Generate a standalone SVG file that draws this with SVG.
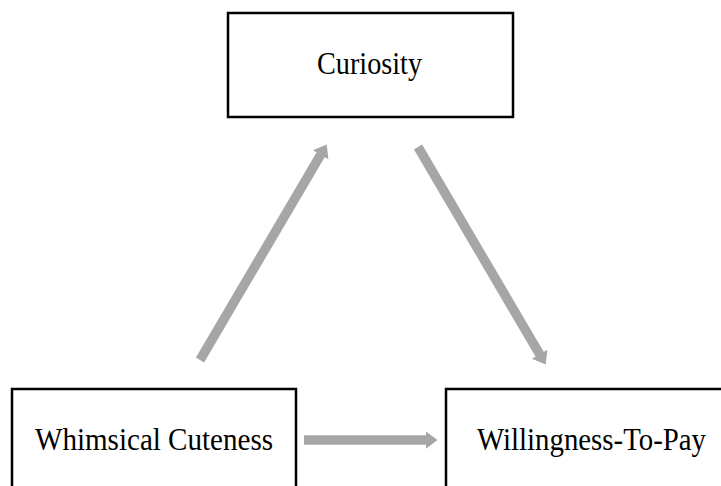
<svg xmlns="http://www.w3.org/2000/svg" width="721" height="486" viewBox="0 0 721 486">
<style>
.box{fill:#fff;stroke:#000;stroke-width:2.5}
.lbl{font-family:"Liberation Serif","Times New Roman",serif;font-size:31px;fill:#000}
.arr{stroke:#a6a6a6;stroke-width:9.5;fill:none}
</style>
<defs>
<marker id="ah" markerUnits="userSpaceOnUse" markerWidth="14" markerHeight="20" viewBox="0 -10 14 20" refX="0.5" refY="0" orient="auto">
<path d="M0,-9 L12,0 L0,9 z" fill="#a6a6a6"/>
</marker>
</defs>
<rect width="721" height="486" fill="#fff"/>
<g id="curiosity">
<rect class="box" x="228" y="13" width="285" height="104"/>
<text class="lbl" x="317" y="74" textLength="105" lengthAdjust="spacingAndGlyphs">Curiosity</text>
</g>
<g id="whimsical">
<rect class="box" x="12" y="389" width="284" height="120"/>
<text class="lbl" x="35" y="450" textLength="238" lengthAdjust="spacingAndGlyphs">Whimsical Cuteness</text>
</g>
<g id="wtp">
<rect class="box" x="446" y="389" width="300" height="120"/>
<text class="lbl" x="477" y="450" textLength="229" lengthAdjust="spacingAndGlyphs">Willingness-To-Pay</text>
</g>
<g id="connectors">
<line class="arr" x1="200" y1="360" x2="320.9" y2="154.3" marker-end="url(#ah)"/>
<line class="arr" x1="418" y1="147" x2="539.9" y2="354.7" marker-end="url(#ah)"/>
<line class="arr" x1="304" y1="440" x2="426" y2="440" marker-end="url(#ah)"/>
</g>
</svg>
